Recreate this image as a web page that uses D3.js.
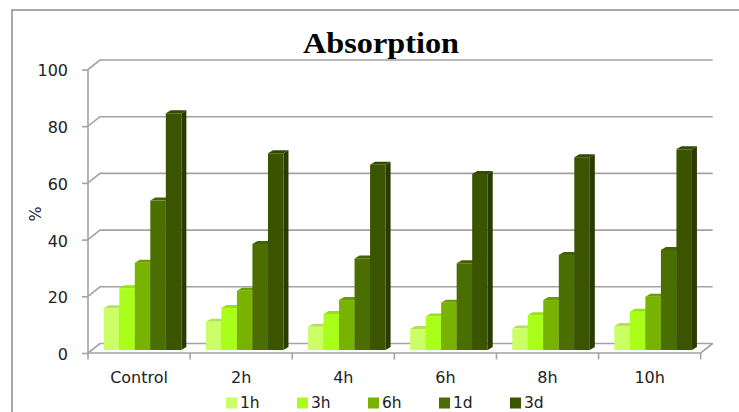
<!DOCTYPE html>
<html>
<head>
<meta charset="utf-8">
<script src="https://cdn.jsdelivr.net/npm/d3@7"></script>
<style>
  html, body { margin: 0; padding: 0; background: #ffffff; }
  svg { display: block; }
</style>
</head>
<body>
<svg id="chart" width="739" height="412"></svg>
<script>
// Absorption (%) by treatment and soaking time
const categories = ["Control", "2h", "4h", "6h", "8h", "10h"];
const seriesNames = ["1h", "3h", "6h", "1d", "3d"];
const values1h = [14.7, 10.0, 8.2, 7.4, 7.6, 8.5];
const values3h = [21.8, 14.8, 12.7, 11.8, 12.3, 13.5];
const values6h = [30.8, 20.9, 17.6, 16.7, 17.6, 18.8];
const values1d = [52.7, 37.4, 32.3, 30.6, 33.5, 35.3];
const values3d = [83.5, 69.4, 65.3, 62.1, 68.0, 70.8];
const yTicks = [0, 20, 40, 60, 80, 100];
const seriesColors = ["#ccff66", "#aaff1a", "#77b300", "#4b6e00", "#3a5400"];

const seriesValues = [values1h, values3h, values6h, values1d, values3d];

const svg = d3.select("#chart");
const gridColor = "#a3a3a3";
const labelFont = "'DejaVu Sans', Verdana, sans-serif";

// Pseudo-3D geometry: wall depth and bar depth offsets
const wall = { dx: 12, dy: -9.5 };
const plane = { dx: 3.5, dy: -3 };
const barDepth = { dx: 5, dy: -3 };

const x0 = d3.scaleBand().domain(categories).range([88, 700.7]).paddingInner(0).paddingOuter(0);
const groupW = 77.6;
const x1 = d3.scaleBand().domain(seriesNames).range([0, groupW]).padding(0);
const y = d3.scaleLinear().domain([0, 100]).range([353, 69.5]);

// Outer frame
svg.append("path")
  .attr("d", "M12,412 L12,10 L739,10")
  .attr("fill", "none").attr("stroke", "#8c8c8c").attr("stroke-width", 1.5);

// Title
svg.append("text")
  .attr("x", 381).attr("y", 53)
  .attr("text-anchor", "middle")
  .attr("font-family", "'Liberation Serif', 'Times New Roman', serif")
  .attr("font-weight", "bold")
  .attr("font-size", 29)
  .attr("textLength", 156).attr("lengthAdjust", "spacingAndGlyphs")
  .attr("fill", "#000")
  .text("Absorption");

const xLeft = x0.range()[0];
const xRight = x0.range()[1];

// Back-wall gridlines and side-wall diagonals
const grid = svg.append("g");
yTicks.forEach(t => {
  const yy = y(t);
  grid.append("path")
    .attr("d", `M${xLeft},${yy} L${xLeft + wall.dx},${yy + wall.dy} L${xRight + wall.dx},${yy + wall.dy}`)
    .attr("fill", "none").attr("stroke", gridColor).attr("stroke-width", 1.6);
});
// Floor front edge and right edge
grid.append("path")
  .attr("d", `M${xLeft},${y(0)} L${xRight},${y(0)} L${xRight + wall.dx},${y(0) + wall.dy}`)
  .attr("fill", "none").attr("stroke", gridColor).attr("stroke-width", 1.6);
// Vertical value axis line
grid.append("line")
  .attr("x1", xLeft).attr("x2", xLeft).attr("y1", y(100)).attr("y2", y(0))
  .attr("stroke", gridColor).attr("stroke-width", 1.6);

// Y axis ticks and labels
const yAxis = d3.axisLeft(y).tickValues(yTicks).tickSize(6).tickPadding(14);
const yg = svg.append("g").attr("transform", `translate(${xLeft},0)`).call(yAxis);
yg.select(".domain").remove();
yg.selectAll(".tick line").attr("stroke", gridColor).attr("stroke-width", 1.6);
yg.selectAll(".tick text")
  .attr("font-family", labelFont)
  .attr("font-size", 16).attr("fill", "#222").attr("dy", "0.4em");

// Y axis title
svg.append("text")
  .attr("transform", "translate(35,214) rotate(-90)")
  .attr("text-anchor", "middle").attr("dominant-baseline", "central")
  .attr("font-family", labelFont)
  .attr("font-size", 16).attr("fill", "#222")
  .text("%");

// Category ticks at band boundaries
const bounds = categories.map(c => x0(c)).concat([xRight]);
svg.append("g").selectAll("line").data(bounds).join("line")
  .attr("x1", d => d).attr("x2", d => d)
  .attr("y1", y(0)).attr("y2", y(0) + 6.5)
  .attr("stroke", gridColor).attr("stroke-width", 1.6);

// Category labels
svg.append("g").selectAll("text").data(categories).join("text")
  .attr("x", d => x0(d) + x0.bandwidth() / 2)
  .attr("y", 383)
  .attr("text-anchor", "middle")
  .attr("font-family", labelFont)
  .attr("font-size", 16).attr("fill", "#222")
  .text(d => d);

// 3D columns, drawn left to right so each front face covers the previous side face
const groupOffset = (x0.bandwidth() - groupW) / 2;
const bars = svg.append("g");
categories.forEach((c, ci) => {
  seriesNames.forEach((s, si) => {
    const v = seriesValues[si][ci];
    const base = d3.color(seriesColors[si]);
    const xl = x0(c) + groupOffset + x1(s) + plane.dx;
    const xr = xl + x1.bandwidth();
    const yb = y(0) + plane.dy;
    const yt = y(v) + plane.dy;
    const g = bars.append("g");
    // side face
    g.append("path")
      .attr("d", `M${xr},${yb} L${xr + barDepth.dx},${yb + barDepth.dy} L${xr + barDepth.dx},${yt + barDepth.dy} L${xr},${yt} Z`)
      .attr("fill", base.darker(1.0).formatHex());
    // top face
    g.append("path")
      .attr("d", `M${xl},${yt} L${xr},${yt} L${xr + barDepth.dx},${yt + barDepth.dy} L${xl + barDepth.dx},${yt + barDepth.dy} Z`)
      .attr("fill", base.darker(0.35).formatHex());
    // front face
    g.append("rect")
      .attr("x", xl).attr("y", yt)
      .attr("width", x1.bandwidth()).attr("height", yb - yt)
      .attr("fill", base.formatHex());
  });
});

// Legend
const legend = svg.append("g");
seriesNames.forEach((s, i) => {
  const lx = 226 + i * 71;
  legend.append("rect")
    .attr("x", lx).attr("y", 397.5).attr("width", 11).attr("height", 11)
    .attr("fill", seriesColors[i]);
  legend.append("text")
    .attr("x", lx + 14).attr("y", 408)
    .attr("font-family", labelFont)
    .attr("font-size", 15.5).attr("fill", "#222")
    .text(s);
});
</script>
</body>
</html>
